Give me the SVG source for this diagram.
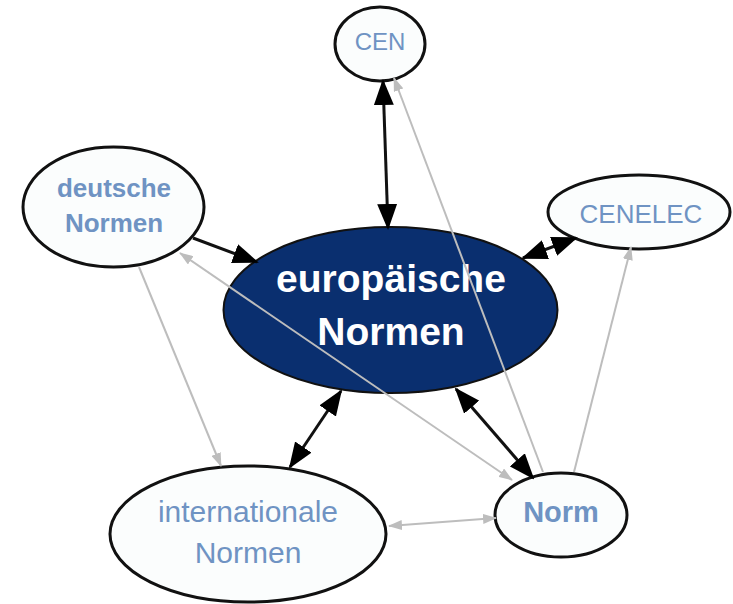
<svg xmlns="http://www.w3.org/2000/svg" width="733" height="604" viewBox="0 0 733 604">
<style>
.n{fill:#fbfdfd;stroke:#111;stroke-width:3}
.main{fill:#0a2f6f;stroke:#111;stroke-width:2}
.t{font-family:"Liberation Sans",Arial,sans-serif;fill:#6f93c3;text-anchor:middle}
.tm{font-family:"Liberation Sans",Arial,sans-serif;fill:#ffffff;text-anchor:middle;font-weight:bold;font-size:39px}
.b{fill:none;stroke:#111;stroke-width:3}
.g{fill:none;stroke:#bdbdbd;stroke-width:2}
</style>
<defs>
<marker id="bk" viewBox="0 0 26 20" refX="24" refY="10" markerWidth="26" markerHeight="20" markerUnits="userSpaceOnUse" orient="auto-start-reverse">
<path d="M0,0 L26,10 L0,20 z" fill="#000"/>
</marker>
<marker id="gy" viewBox="0 0 14 10" refX="13" refY="5" markerWidth="14" markerHeight="10" markerUnits="userSpaceOnUse" orient="auto-start-reverse">
<path d="M0,0 L14,5 L0,10 z" fill="#bdbdbd"/>
</marker>
</defs>
<rect width="733" height="604" fill="#ffffff"/>
<g id="node-cen">
<ellipse class="n" cx="380" cy="44" rx="45" ry="37"/>
<text class="t" x="380" y="50" font-size="24">CEN</text>
</g>
<g id="node-deutsche">
<ellipse class="n" cx="113.5" cy="207" rx="90.5" ry="60"/>
<text class="t" x="114" y="197" font-size="26" font-weight="bold">deutsche</text>
<text class="t" x="114" y="232" font-size="26" font-weight="bold">Normen</text>
</g>
<g id="node-cenelec">
<ellipse class="n" cx="639" cy="212" rx="91" ry="37"/>
<text class="t" x="641" y="223" font-size="26">CENELEC</text>
</g>
<g id="node-europaeische">
<ellipse class="main" cx="390.5" cy="310" rx="167" ry="83"/>
<text class="tm" x="391" y="292">europäische</text>
<text class="tm" x="391" y="345">Normen</text>
</g>
<g id="node-internationale">
<ellipse class="n" cx="248" cy="534" rx="138" ry="68"/>
<text class="t" x="248" y="522" font-size="30">internationale</text>
<text class="t" x="248" y="563" font-size="30">Normen</text>
</g>
<g id="node-norm">
<ellipse class="n" cx="561" cy="515" rx="66" ry="42"/>
<text class="t" x="561" y="522" font-size="29" font-weight="bold">Norm</text>
</g>
<g id="connectors">
<path class="g" d="M139,267 L221,466" marker-end="url(#gy)"/>
<path class="g" d="M180,253 L512,480" marker-start="url(#gy)" marker-end="url(#gy)"/>
<path class="g" d="M543,472 L394,78" marker-end="url(#gy)"/>
<path class="g" d="M574,472 L631,247" marker-end="url(#gy)"/>
<path class="g" d="M389,526 L496,518" marker-start="url(#gy)" marker-end="url(#gy)"/>
<path class="b" d="M193,238 L257,262" marker-end="url(#bk)"/>
<path class="b" d="M383,81 L388,228" marker-start="url(#bk)" marker-end="url(#bk)"/>
<path class="b" d="M523,258 L576,238" marker-start="url(#bk)" marker-end="url(#bk)"/>
<path class="b" d="M290,467 L341,391" marker-start="url(#bk)" marker-end="url(#bk)"/>
<path class="b" d="M456,389 L533,478" marker-start="url(#bk)" marker-end="url(#bk)"/>
</g>
</svg>
